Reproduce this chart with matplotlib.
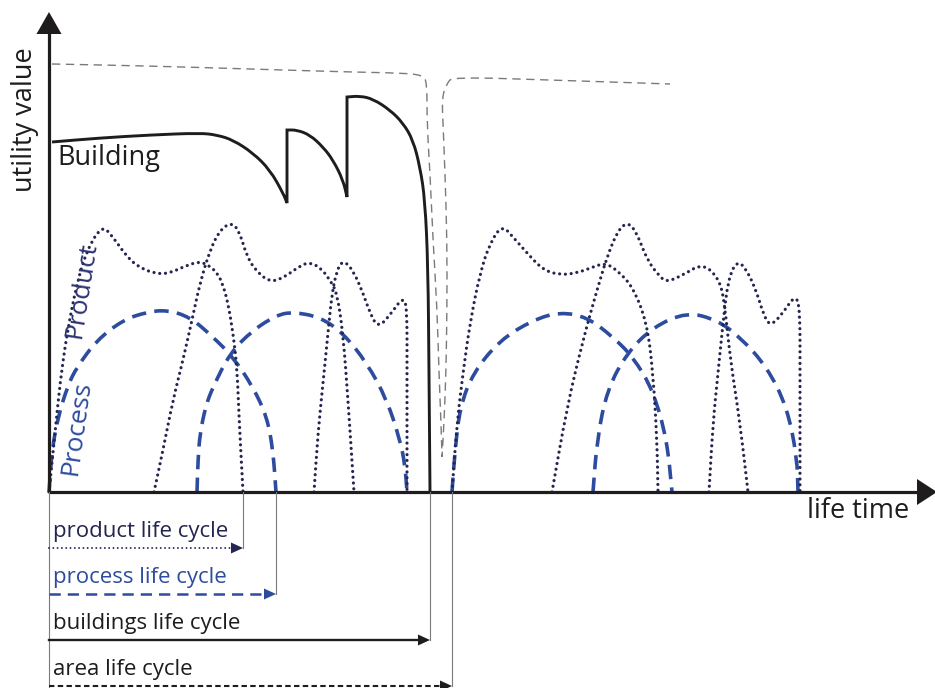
import numpy as np
import matplotlib
matplotlib.use("Agg")
import matplotlib.pyplot as plt
from matplotlib.path import Path
from matplotlib.patches import PathPatch, Polygon

plt.rcParams['font.family'] = ['Open Sans', 'DejaVu Sans']

NAVY = '#242550'
BLUE = '#2d4c9e'
BLACK = '#1e1c1d'
GRAY = '#7a7a7a'

# life time (t) / utility value (u)
area = [
    [(3, 428), (101, 426), (201, 423), (301, 420), (351, 419), (374, 417), (378, 409),
     (378, 369), (381, 319), (384, 252), (388, 185), (390, 119), (392, 69), (393, 35)],
    [(393, 35), (395, 69), (397, 119), (398, 185), (398, 252), (396, 319), (394, 369),
     (393, 395), (398, 409), (404, 415), (501, 412), (621, 408)],
]
building = [
    [(3, 350), (51, 354), (101, 357), (151, 359), (168, 357), (184, 352), (204, 339),
     (221, 322), (234, 299), (238, 289)],
    [(238, 362), (248, 362), (261, 357), (274, 345), (284, 332), (294, 312), (298, 295)],
    [(298, 395), (311, 396), (324, 393), (341, 382), (354, 369), (364, 352), (371, 325),
     (376, 292), (379, 225), (380, 119), (381, 0)],
]
products = [
    [(0, 0), (6, 59), (11, 109), (18, 159), (28, 209), (38, 242), (53, 267), (64, 255),
     (78, 235), (91, 224), (108, 218), (121, 219), (134, 225), (148, 230), (156, 229),
     (168, 220), (174, 207), (179, 189), (184, 159), (188, 125), (190, 75), (194, 0)],
    [(105, 0), (114, 42), (124, 92), (134, 132), (143, 172), (151, 209), (161, 242),
     (171, 262), (183, 270), (191, 259), (198, 235), (208, 220), (221, 210), (234, 214),
     (248, 224), (259, 230), (271, 225), (281, 212), (288, 199), (294, 159), (299, 92),
     (305, 0)],
    [(265, 0), (269, 59), (274, 109), (279, 159), (283, 199), (288, 222), (294, 232),
     (304, 222), (314, 199), (321, 179), (329, 164), (341, 177), (354, 195), (358, 185),
     (358, 125), (358, 0)],
    [(403, 0), (408, 69), (414, 119), (421, 169), (431, 219), (441, 249), (453, 267),
     (464, 255), (478, 239), (494, 222), (511, 217), (528, 219), (544, 225), (556, 229),
     (568, 222), (584, 205), (598, 169), (604, 119), (608, 52), (609, 0)],
    [(503, 0), (518, 85), (534, 152), (548, 202), (558, 235), (569, 262), (579, 270),
     (588, 259), (598, 232), (611, 215), (618, 210), (634, 217), (654, 229), (671, 212),
     (676, 185), (681, 135), (691, 69), (699, 0)],
    [(660, 0), (664, 69), (669, 119), (674, 169), (679, 212), (688, 232), (698, 222),
     (708, 199), (714, 179), (721, 165), (734, 179), (746, 197), (751, 185), (751, 119),
     (751, 0)],
]
processes = [
    [(0, 0), (3, 42), (9, 75), (19, 107), (28, 125), (48, 152), (74, 172), (98, 180),
     (118, 182), (141, 175), (164, 155), (184, 135), (204, 105), (218, 75), (224, 42),
     (227, 0)],
    [(148, 0), (149, 32), (151, 59), (157, 87), (164, 105), (181, 139), (204, 162),
     (228, 177), (244, 180), (271, 175), (294, 159), (318, 129), (338, 92), (351, 52),
     (356, 27), (358, 0)],
    [(403, 0), (406, 42), (411, 85), (424, 119), (451, 152), (484, 172), (511, 180),
     (538, 175), (564, 155), (584, 135), (604, 102), (618, 52), (623, 0)],
    [(544, 0), (548, 52), (558, 102), (578, 139), (604, 165), (638, 180), (668, 172),
     (691, 155), (718, 125), (738, 85), (748, 35), (749, 0)],
]

cycle_names = ['product life cycle', 'process life cycle', 'buildings life cycle', 'area life cycle']
cycle_ends = [194, 227, 381, 403]
cycle_rows = [-56, -102, -148, -194]


def smooth_path(segments):
    verts, codes = [], []
    for k, seg in enumerate(segments):
        p = np.asarray(seg, float)
        verts.append(p[0])
        codes.append(Path.MOVETO if k == 0 else Path.LINETO)
        if len(p) > 2:
            mids = (p[:-1] + p[1:]) / 2
            verts.append(mids[0])
            codes.append(Path.LINETO)
            for i in range(1, len(p) - 1):
                verts += [p[i], mids[i]]
                codes += [Path.CURVE3, Path.CURVE3]
        verts.append(p[-1])
        codes.append(Path.LINETO)
    return Path(verts, codes)


def curve(ax, segments, **kw):
    ax.add_patch(PathPatch(smooth_path(segments), fill=False, **kw))


def dotted_curve(ax, segments, **kw):
    # flatten the smooth path so Line2D can give round dots
    for poly in smooth_path(segments).to_polygons(closed_only=False):
        ax.plot(poly[:, 0], poly[:, 1], dash_capstyle='round', **kw)


def head(ax, tip, direction, length, half, color):
    x, y = tip
    if direction == 'right':
        pts = [(x, y), (x - length, y + half), (x - length, y - half)]
    else:
        pts = [(x, y), (x - half, y - length), (x + half, y - length)]
    ax.add_patch(Polygon(pts, closed=True, color=color, lw=0))


fig = plt.figure(figsize=(9.35, 6.88), dpi=100)
ax = fig.add_axes([0, 0, 1, 1])
ax.set_xlim(-49, 886)
ax.set_ylim(-196, 492)
ax.axis('off')

# area (gray dashed)
curve(ax, area, edgecolor=GRAY, lw=1.0, linestyle=(0, (6, 4)))

# product (dotted) and process (dashed)
for p in products:
    dotted_curve(ax, [p], color=NAVY, lw=2.3, linestyle=(0, (0.01, 1.8)))
for p in processes:
    curve(ax, [p], edgecolor=BLUE, lw=2.6, linestyle=(0, (4.0, 2.3)), capstyle='butt')

# building
curve(ax, building, edgecolor=BLACK, lw=2.1, joinstyle='miter')

# axes
y_top, x_right = 480, 888
ax.plot([0, 0], [0, y_top - 15], color=BLACK, lw=2.3, solid_capstyle='butt')
ax.plot([0, x_right - 15], [0, 0], color=BLACK, lw=2.3, solid_capstyle='butt')
head(ax, (0, y_top), 'up', 22, 12.5, BLACK)
head(ax, (x_right, 0), 'right', 20, 13, BLACK)

ax.text(-24, 372, 'utility value', rotation=90, ha='center', va='center',
        fontsize=19.5, color=BLACK)
ax.text(809, -19, 'life time', ha='center', va='center', fontsize=19.5, color=BLACK)
ax.text(8, 334, 'Building', ha='left', va='center', fontsize=19.5, color=BLACK)
ax.text(33, 202, 'Product', rotation=81, ha='center', va='center', fontsize=19,
        color='#2c3272', rotation_mode='anchor')
ax.text(28, 64, 'Process', rotation=82, ha='center', va='center', fontsize=19,
        color=BLUE, rotation_mode='anchor')

# life cycle arrows below the axis
ax.plot([0, 0], [0, -196], color=GRAY, lw=0.8)
styles = [
    dict(color=NAVY, lw=1.4, linestyle=(0, (0.01, 2.2)), dash_capstyle='round'),
    dict(color=BLUE, lw=1.8, linestyle=(0, (4.5, 2.8))),
    dict(color=BLACK, lw=1.7, linestyle='-'),
    dict(color=BLACK, lw=1.5, linestyle=(0, (2.6, 1.6))),
]
text_colors = [NAVY, BLUE, BLACK, BLACK]
for name, end, row, st, tc in zip(cycle_names, cycle_ends, cycle_rows, styles, text_colors):
    ax.plot([end, end], [0, row], color=GRAY, lw=0.8)
    ax.plot([0, end - 8], [row, row], **st)
    head(ax, (end, row), 'right', 12, 5.5, st['color'])
    ax.text(4, row + 17, name, ha='left', va='center', fontsize=16, color=tc)

fig.savefig('out.png', dpi=100)
